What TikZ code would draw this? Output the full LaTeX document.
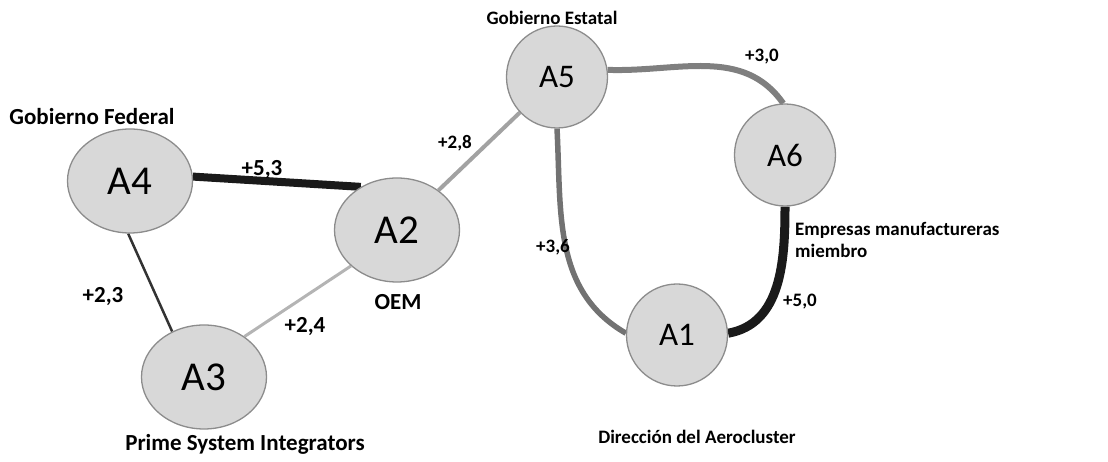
\documentclass[tikz,border=0pt]{standalone}
\usepackage{fontspec}
\setmainfont{Carlito}
\usepackage{xcolor}
\usetikzlibrary{shapes.geometric, backgrounds}
\definecolor{nodefill}{HTML}{D8D8D8}
\definecolor{nodeborder}{HTML}{8C8C8C}
\definecolor{strongtie}{HTML}{1A1A1A}
\definecolor{midtie}{HTML}{7F7F7F}
\definecolor{weaktie}{HTML}{B4B4B4}

\begin{document}
\begin{tikzpicture}[x=1pt, y=1pt]
        \tikzstyle{actor} = [ellipse, draw=nodeborder, fill=nodefill, line width=1.3pt, inner sep=0pt, minimum width=125pt, minimum height=104pt, font=\fontsize{41}{44}\selectfont]
        \tikzstyle{smallactor} = [actor, minimum width=101pt, minimum height=102pt, font=\fontsize{33}{36}\selectfont]
        \tikzstyle{role} = [font=\bfseries\fontsize{19}{22}\selectfont, inner sep=0pt]
        \tikzstyle{bigrole} = [role, font=\bfseries\fontsize{23}{26}\selectfont]
        \tikzstyle{weight} = [font=\bfseries\fontsize{19}{21}\selectfont, inner sep=0pt]
        \tikzstyle{bigweight} = [weight, font=\bfseries\fontsize{23}{25}\selectfont]

        \useasboundingbox (0,0) rectangle (1108,462);

        \node [actor] (a4) at (130,281) {A4};
        \node [actor] (a2) at (397,232) {A2};
        \node [actor] (a3) at (204,85) {A3};
        \node [smallactor] (a5) at (557,385) {A5};
        \node [smallactor] (a6) at (785,307) {A6};
        \node [smallactor] (a1) at (677,127) {A1};

        \node [bigrole] (fed) at (92,345) {Gobierno Federal};
        \node [bigrole] (oem) at (398,160) {OEM};
        \node [bigrole] (psi) at (245,18) {Prime System Integrators};
        \node [role] (est) at (552,444) {Gobierno Estatal};
        \node [role, anchor=west, align=left] (emp) at (795,222) {Empresas manufactureras\\miembro};
        \node [role] (dir) at (697,25) {Dirección del Aerocluster};

        \node [bigweight] (w42) at (262,292) {+5,3};
        \node [bigweight] (w43) at (103,165) {+2,3};
        \node [bigweight] (w32) at (305,135) {+2,4};
        \node [weight] (w25) at (455,319) {+2,8};
        \node [weight] (w56) at (762,405) {+3,0};
        \node [weight] (w51) at (553,215) {+3,6};
        \node [weight] (w61) at (800,160) {+5,0};

        \begin{scope}[on background layer]
        \path [draw, line width=8pt, color=strongtie] (a4.4) -- (a2.130);
        \path [draw, line width=2.5pt, color=black!80] (a4.268) -- (a3.125);
        \path [draw, line width=3pt, color=weaktie] (a3.45) -- (a2.218);
        \path [draw, line width=4pt, color=weaktie!90!black] (a2) -- (a5);
        \path [draw, line width=6pt, color=midtie] (a5.8) to[out=-2, in=125] (a6.92);
        \path [draw, line width=5.5pt, color=midtie!90!black] (a5.270) to[out=-87, in=150] (a1.178);
        \path [draw, line width=9pt, color=strongtie] (a6.270) to[out=-90, in=10] (a1.2);
        \end{scope}
    \end{tikzpicture}
\end{document}
